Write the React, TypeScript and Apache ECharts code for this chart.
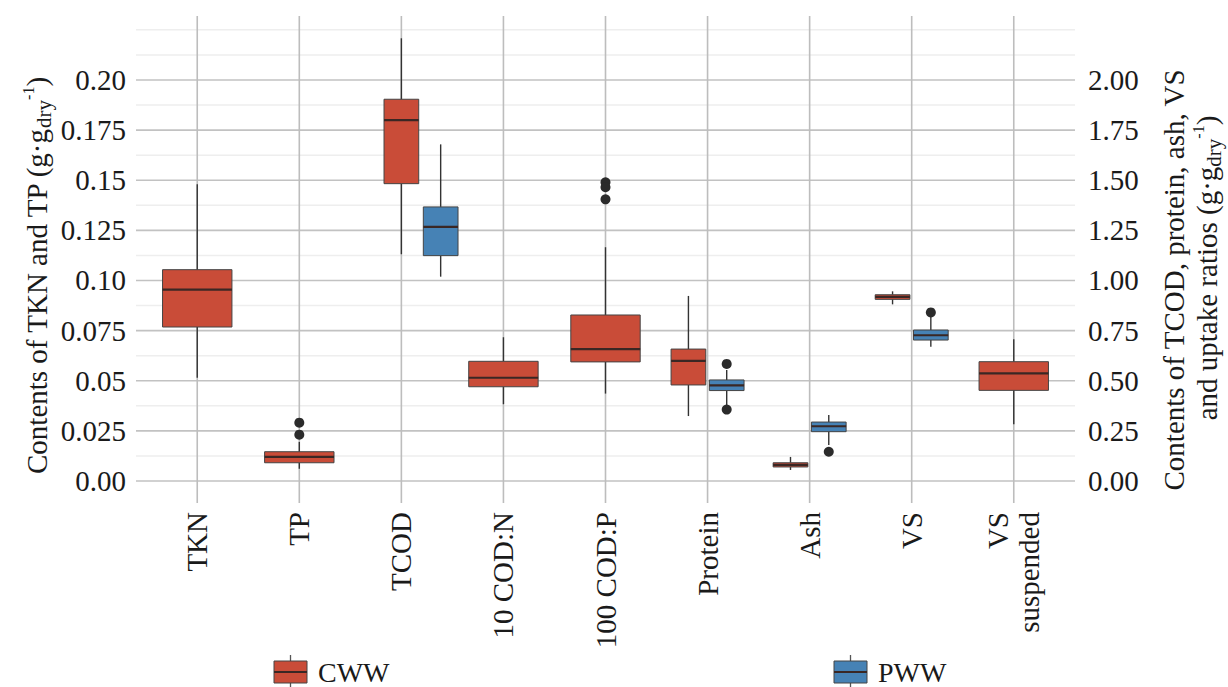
import React, { useEffect, useRef } from "react";
import * as echarts from "echarts";

// ---------- data ----------
const categories = ["TKN", "TP", "TCOD", "10 COD:N", "100 COD:P", "Protein", "Ash", "VS", "VS\nsuspended"];
// 0 = left axis (TKN, TP), 1 = right axis
const categoryAxis = [0, 0, 1, 1, 1, 1, 1, 1, 1];

const leftTicks = [0, 0.025, 0.05, 0.075, 0.1, 0.125, 0.15, 0.175, 0.2];
const leftTickLabels = ["0.00", "0.025", "0.05", "0.075", "0.10", "0.125", "0.15", "0.175", "0.20"];
const rightTicks = [0, 0.25, 0.5, 0.75, 1.0, 1.25, 1.5, 1.75, 2.0];
const rightTickLabels = ["0.00", "0.25", "0.50", "0.75", "1.00", "1.25", "1.50", "1.75", "2.00"];
const minorGridLeft = [0.0125, 0.0375, 0.0625, 0.0875, 0.1125, 0.1375, 0.1625, 0.1875, 0.2125, 0.225];

// CWW box statistics (left-axis units for TKN/TP, right-axis units for the rest)
const cwwLow = [0.0515, 0.0061, 1.131, 0.383, 0.436, 0.324, 0.055, 0.881, 0.283];
const cwwQ1 = [0.0768, 0.0091, 1.483, 0.47, 0.594, 0.479, 0.07, 0.906, 0.452];
const cwwMedian = [0.0954, 0.012, 1.8, 0.515, 0.658, 0.599, 0.08, 0.918, 0.537];
const cwwQ3 = [0.1054, 0.0146, 1.904, 0.597, 0.828, 0.658, 0.091, 0.929, 0.595];
const cwwHigh = [0.148, 0.0195, 2.208, 0.717, 1.166, 0.923, 0.12, 0.946, 0.707];

// PWW box statistics
const pwwLow = [null, null, 1.019, null, null, 0.379, 0.18, 0.67, null];
const pwwQ1 = [null, null, 1.124, null, null, 0.451, 0.246, 0.703, null];
const pwwMedian = [null, null, 1.267, null, null, 0.477, 0.273, 0.727, null];
const pwwQ3 = [null, null, 1.367, null, null, 0.504, 0.294, 0.753, null];
const pwwHigh = [null, null, 1.679, null, null, 0.554, 0.329, 0.825, null];

// outliers: [category index, value]
const cwwOutliers = [[1, 0.0291], [1, 0.0231], [4, 1.49], [4, 1.465], [4, 1.405]];
const pwwOutliers = [[5, 0.584], [5, 0.356], [6, 0.146], [7, 0.841]];

// ---------- styling / layout ----------
const CWW_COLOR = "#C94C38";
const PWW_COLOR = "#4682B5";
const FONT = "'Liberation Serif', 'Times New Roman', serif";
const TEXT = "#1a1a1a";
const LEFT_MIN = -0.010973;
const LEFT_MAX = 0.23192;
const FULL_W = 0.68;
const HALF_W = 0.34;

function layout(cat: number, group: "CWW" | "PWW", both: boolean) {
  if (!both) return { off: 0, w: FULL_W };
  if (categories[cat] === "TCOD") return { off: group === "CWW" ? 0 : 0.385, w: HALF_W };
  return { off: group === "CWW" ? -0.1875 : 0.1875, w: HALF_W };
}

function buildBoxes(group: "CWW" | "PWW", axis: number) {
  const low = group === "CWW" ? cwwLow : pwwLow;
  const q1 = group === "CWW" ? cwwQ1 : pwwQ1;
  const med = group === "CWW" ? cwwMedian : pwwMedian;
  const q3 = group === "CWW" ? cwwQ3 : pwwQ3;
  const high = group === "CWW" ? cwwHigh : pwwHigh;
  const out: number[][] = [];
  categories.forEach((_, i) => {
    if (categoryAxis[i] !== axis || med[i] == null) return;
    const both = cwwMedian[i] != null && pwwMedian[i] != null;
    const { off, w } = layout(i, group, both);
    out.push([i + 1 + off, low[i] as number, q1[i] as number, med[i] as number, q3[i] as number, high[i] as number, w]);
  });
  return out;
}

function buildOutliers(group: "CWW" | "PWW", axis: number) {
  const src = group === "CWW" ? cwwOutliers : pwwOutliers;
  return src
    .filter(([c]) => categoryAxis[c] === axis)
    .map(([c, v]) => {
      const both = cwwMedian[c] != null && pwwMedian[c] != null;
      const { off } = layout(c, group, both);
      return [c + 1 + off, v];
    });
}

const boxRender = (color: string) => (params: any, api: any) => {
  const x = api.value(0);
  const w = api.value(6);
  const p = (v: number) => api.coord([x, v]);
  const cx = p(api.value(3))[0];
  const yLow = p(api.value(1))[1];
  const yQ1 = p(api.value(2))[1];
  const yMed = p(api.value(3))[1];
  const yQ3 = p(api.value(4))[1];
  const yHigh = p(api.value(5))[1];
  const half = api.size([w, 0])[0] / 2;
  return {
    type: "group",
    children: [
      { type: "line", shape: { x1: cx, y1: yHigh, x2: cx, y2: yQ3 }, style: { stroke: "#333", lineWidth: 1.4 } },
      { type: "line", shape: { x1: cx, y1: yQ1, x2: cx, y2: yLow }, style: { stroke: "#333", lineWidth: 1.4 } },
      {
        type: "rect",
        shape: { x: cx - half, y: yQ3, width: half * 2, height: Math.max(yQ1 - yQ3, 1) },
        style: { fill: color, stroke: "#444", lineWidth: 1 },
      },
      { type: "line", shape: { x1: cx - half, y1: yMed, x2: cx + half, y2: yMed }, style: { stroke: "#3a2724", lineWidth: 2.2 } },
    ],
  };
};

function legendItem(x: number, color: string, label: string) {
  return {
    type: "group",
    children: [
      { type: "line", shape: { x1: x + 16.5, y1: 655, x2: x + 16.5, y2: 687 }, style: { stroke: "#555", lineWidth: 1.3 } },
      { type: "rect", shape: { x: x, y: 661, width: 33, height: 22 }, style: { fill: color, stroke: "#444", lineWidth: 1 } },
      { type: "line", shape: { x1: x, y1: 672, x2: x + 33, y2: 672 }, style: { stroke: "#3a2724", lineWidth: 2 } },
      {
        type: "text",
        x: x + 44,
        y: 672,
        style: { text: label, fontFamily: FONT, fontSize: 28, fill: TEXT, align: "left", verticalAlign: "middle" },
      },
    ],
  };
}

const richUnits = {
  sub: { fontFamily: FONT, fontSize: 21, fill: TEXT, verticalAlign: "bottom", lineHeight: 21 },
  sup: { fontFamily: FONT, fontSize: 16, fill: TEXT, verticalAlign: "top", lineHeight: 16 },
};

function titleText(x: number, y: number, text: string) {
  return {
    type: "text",
    x,
    y,
    rotation: Math.PI / 2,
    style: {
      text,
      fontFamily: FONT,
      fontSize: 29,
      lineHeight: 34,
      fill: TEXT,
      align: "center",
      verticalAlign: "middle",
      rich: richUnits,
    },
  };
}

export default function App() {
  const ref = useRef<HTMLDivElement>(null);
  useEffect(() => {
    document.body.style.margin = "0";
    if (!ref.current) return;
    const chart = echarts.init(ref.current, undefined, { renderer: "svg" });

    const gridH = (values: number[], color: string, width: number) => ({
      type: "custom",
      xAxisIndex: 0,
      yAxisIndex: 0,
      silent: true,
      z: 0,
      data: values.map((v) => [1, v]),
      renderItem: (params: any, api: any) => {
        const cs = params.coordSys;
        const y = api.coord([1, api.value(1)])[1];
        return {
          type: "line",
          shape: { x1: cs.x, y1: y, x2: cs.x + cs.width, y2: y },
          style: { stroke: color, lineWidth: width },
        };
      },
    });

    const gridV = {
      type: "custom",
      xAxisIndex: 0,
      yAxisIndex: 0,
      silent: true,
      z: 1,
      data: categories.map((_, i) => [i + 1, 0]),
      renderItem: (params: any, api: any) => {
        const cs = params.coordSys;
        const x = api.coord([api.value(0), 0])[0];
        return {
          type: "line",
          shape: { x1: x, y1: cs.y, x2: x, y2: cs.y + cs.height },
          style: { stroke: "#bdbdbd", lineWidth: 1.6 },
        };
      },
    };

    const series: any[] = [gridH(minorGridLeft, "#eeeeee", 1.5), gridH(leftTicks, "#c2c2c2", 1.6), gridV];
    (["CWW", "PWW"] as const).forEach((g) => {
      [0, 1].forEach((axis) => {
        const boxes = buildBoxes(g, axis);
        if (boxes.length) {
          series.push({
            type: "custom",
            name: g,
            xAxisIndex: 0,
            yAxisIndex: axis,
            z: 3,
            silent: true,
            dimensions: ["x", "low", "q1", "median", "q3", "high", "w"],
            encode: { x: 0, y: [1, 2, 3, 4, 5] },
            data: boxes,
            renderItem: boxRender(g === "CWW" ? CWW_COLOR : PWW_COLOR),
          });
        }
        const outs = buildOutliers(g, axis);
        if (outs.length) {
          series.push({
            type: "scatter",
            xAxisIndex: 0,
            yAxisIndex: axis,
            z: 4,
            silent: true,
            symbol: "circle",
            symbolSize: 10,
            itemStyle: { color: "#2b2b2b", opacity: 1 },
            data: outs,
          });
        }
      });
    });

    chart.setOption({
      animation: false,
      backgroundColor: "#ffffff",
      grid: { left: 136, right: 153, top: 16, bottom: 184, containLabel: false },
      xAxis: {
        type: "value",
        min: 0.4,
        max: 9.6,
        axisLine: { show: false },
        axisTick: { show: false },
        splitLine: { show: false },
        axisLabel: {
          customValues: categories.map((_, i) => i + 1),
          formatter: (v: number) => categories[Math.round(v) - 1] ?? "",
          rotate: 90,
          margin: 9,
          fontFamily: FONT,
          fontSize: 29,
          lineHeight: 31,
          color: TEXT,
        },
      },
      yAxis: [
        {
          type: "value",
          min: LEFT_MIN,
          max: LEFT_MAX,
          axisLine: { show: false },
          axisTick: { show: false },
          splitLine: { show: false },
          axisLabel: {
            customValues: leftTicks,
            formatter: (v: number) => {
              const i = leftTicks.findIndex((t) => Math.abs(t - v) < 1e-9);
              return i >= 0 ? leftTickLabels[i] : "";
            },
            margin: 10,
            fontFamily: FONT,
            fontSize: 29,
            color: TEXT,
          },
        },
        {
          type: "value",
          position: "right",
          min: LEFT_MIN * 10,
          max: LEFT_MAX * 10,
          axisLine: { show: false },
          axisTick: { show: false },
          splitLine: { show: false },
          axisLabel: {
            customValues: rightTicks,
            formatter: (v: number) => {
              const i = rightTicks.findIndex((t) => Math.abs(t - v) < 1e-9);
              return i >= 0 ? rightTickLabels[i] : "";
            },
            margin: 13,
            fontFamily: FONT,
            fontSize: 29,
            color: TEXT,
          },
        },
      ],
      series,
      graphic: [
        titleText(37, 276, "Contents of TKN and TP (g·g{sub|dry}{sup|-1})"),
        titleText(1174, 280, "Contents of TCOD, protein, ash, VS"),
        titleText(1207, 268, "and uptake ratios (g·g{sub|dry}{sup|-1})"),
        legendItem(274, CWW_COLOR, "CWW"),
        legendItem(834, PWW_COLOR, "PWW"),
      ],
    });
    return () => chart.dispose();
  }, []);
  return <div ref={ref} style={{ width: 1228, height: 687 }} />;
}
